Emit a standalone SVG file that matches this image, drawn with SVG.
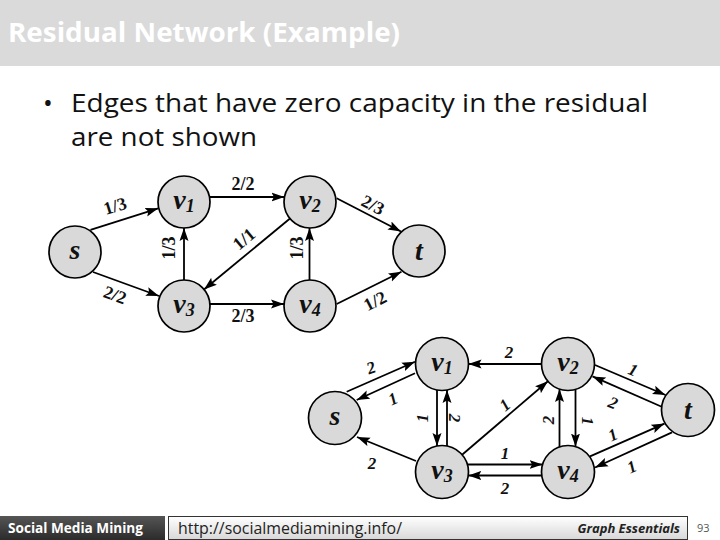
<svg xmlns="http://www.w3.org/2000/svg" width="720" height="540" viewBox="0 0 720 540">
<style>
.node circle{fill:#d9d9d9;stroke:#000;stroke-width:1.7}
.nl{font-family:"Liberation Serif","Times New Roman",serif;font-weight:bold;font-style:italic;font-size:28px;fill:#111;text-anchor:middle}
.sub{font-size:18px}
.e line{stroke:#000;stroke-width:1.8;marker-end:url(#arr)}
.tl{font-family:"Liberation Serif","Times New Roman",serif;font-weight:bold;font-size:18px;fill:#111;text-anchor:middle;dominant-baseline:central}
.bl{font-family:"Liberation Serif","Times New Roman",serif;font-weight:bold;font-style:italic;font-size:17px;fill:#111;text-anchor:middle;dominant-baseline:central}
.ui{font-family:"Open Sans","Noto Sans","Liberation Sans",sans-serif}
</style>
<defs>
<marker id="arr" markerUnits="userSpaceOnUse" markerWidth="13" markerHeight="10" viewBox="0 0 13 10" refX="13" refY="5" orient="auto">
<path d="M0,0.5 L13,5 L0,9.5 L2.5,5 z" fill="#000"/>
</marker>
<linearGradient id="dark" x1="0" y1="0" x2="0" y2="1"><stop offset="0" stop-color="#555"/><stop offset="1" stop-color="#2b2b2b"/></linearGradient>
<linearGradient id="light" x1="0" y1="0" x2="0" y2="1"><stop offset="0" stop-color="#ffffff"/><stop offset="1" stop-color="#d8d8d8"/></linearGradient>
</defs>

<rect x="0" y="0" width="720" height="66" fill="#dadada"/>
<text class="ui" x="8" y="42" font-size="26" font-weight="bold" fill="#fff" textLength="392" lengthAdjust="spacingAndGlyphs">Residual Network (Example)</text>
<text class="ui" x="43" y="112" font-size="26" fill="#111">•</text>
<text class="ui" x="71" y="112" font-size="26" fill="#111" textLength="577" lengthAdjust="spacingAndGlyphs">Edges that have zero capacity in the residual</text>
<text class="ui" x="71" y="146" font-size="26" fill="#111" textLength="186" lengthAdjust="spacingAndGlyphs">are not shown</text>

<!-- top graph connectors -->
<g id="top-edges" class="e">
<line x1="90.5" y1="229.8" x2="158.3" y2="208.3"/>
<line x1="93" y1="272" x2="159" y2="296"/>
<line x1="209.5" y1="197" x2="284.5" y2="197"/>
<line x1="184" y1="280" x2="184" y2="228"/>
<line x1="290" y1="218.5" x2="204" y2="289.5"/>
<line x1="309.5" y1="280" x2="309.5" y2="228"/>
<line x1="210" y1="304" x2="284" y2="304"/>
<line x1="336.7" y1="198.3" x2="401" y2="231.5"/>
<line x1="336.7" y1="304" x2="401.5" y2="271.7"/>
</g>
<g id="top-edge-labels">
<text class="tl" x="115" y="206" transform="rotate(-17 115 206)">1/3</text>
<text class="tl" x="115" y="295" transform="rotate(20 115 295)">2/2</text>
<text class="tl" x="243" y="184">2/2</text>
<text class="tl" x="243" y="316">2/3</text>
<text class="tl" x="244" y="239" transform="rotate(-40 244 239)">1/1</text>
<text class="tl" x="169" y="248" transform="rotate(-90 169 248)">1/3</text>
<text class="tl" x="297" y="248" transform="rotate(-90 297 248)">1/3</text>
<text class="tl" x="373" y="205" transform="rotate(27 373 205)">2/3</text>
<text class="tl" x="375" y="301" transform="rotate(-27 375 301)">1/2</text>
</g>

<g id="top-s" class="node"><circle cx="75" cy="252" r="26"/><text class="nl" x="75" y="259">s</text></g>
<g id="top-v1" class="node"><circle cx="184" cy="202" r="26"/><text class="nl" x="184" y="209">v<tspan class="sub" dy="3">1</tspan></text></g>
<g id="top-v2" class="node"><circle cx="310" cy="202" r="26"/><text class="nl" x="310" y="209">v<tspan class="sub" dy="3">2</tspan></text></g>
<g id="top-v3" class="node"><circle cx="184" cy="306" r="26"/><text class="nl" x="184" y="313">v<tspan class="sub" dy="3">3</tspan></text></g>
<g id="top-v4" class="node"><circle cx="310" cy="306" r="26"/><text class="nl" x="310" y="313">v<tspan class="sub" dy="3">4</tspan></text></g>
<g id="top-t" class="node"><circle cx="419" cy="251" r="26"/><text class="nl" x="419" y="260">t</text></g>

<!-- bottom graph connectors -->
<g id="bottom-edges" class="e">
<line x1="346.7" y1="391.7" x2="415" y2="361.7"/>
<line x1="415" y1="373.3" x2="356.7" y2="400"/>
<line x1="416" y1="461" x2="357" y2="437"/>
<line x1="437" y1="390" x2="437" y2="446"/>
<line x1="447" y1="446" x2="447" y2="390"/>
<line x1="541.5" y1="364" x2="468.5" y2="364"/>
<line x1="462.1" y1="454.7" x2="547.9" y2="381.3"/>
<line x1="467.4" y1="464.5" x2="542.6" y2="464.5"/>
<line x1="541.7" y1="475.5" x2="468.3" y2="475.5"/>
<line x1="559.5" y1="447" x2="559.5" y2="389"/>
<line x1="575.5" y1="389.5" x2="575.5" y2="446.5"/>
<line x1="595" y1="365" x2="665.5" y2="395"/>
<line x1="661.7" y1="406.7" x2="592.5" y2="376.4"/>
<line x1="590" y1="456.4" x2="664.5" y2="423.6"/>
<line x1="672" y1="432.4" x2="595" y2="467.5"/>
</g>
<g id="bottom-edge-labels">
<text class="bl" x="371" y="368" transform="rotate(-20 371 368)">2</text>
<text class="bl" x="393" y="399" transform="rotate(-25 393 399)">1</text>
<text class="bl" x="372" y="463">2</text>
<text class="bl" x="422" y="418" transform="rotate(-90 422 418)">1</text>
<text class="bl" x="454" y="418" transform="rotate(90 454 418)">2</text>
<text class="bl" x="509" y="352">2</text>
<text class="bl" x="505" y="405" transform="rotate(-40 505 405)">1</text>
<text class="bl" x="505" y="453">1</text>
<text class="bl" x="505" y="488">2</text>
<text class="bl" x="548" y="420" transform="rotate(-90 548 420)">2</text>
<text class="bl" x="587" y="421" transform="rotate(90 587 421)">1</text>
<text class="bl" x="633" y="370" transform="rotate(22 633 370)">1</text>
<text class="bl" x="613" y="403" transform="rotate(22 613 403)">2</text>
<text class="bl" x="613" y="435" transform="rotate(-24 613 435)">1</text>
<text class="bl" x="632" y="467" transform="rotate(-24 632 467)">1</text>
</g>

<g id="bot-s" class="node"><circle cx="335" cy="418" r="26.5"/><text class="nl" x="335" y="425">s</text></g>
<g id="bot-v1" class="node"><circle cx="442" cy="364" r="26.5"/><text class="nl" x="442" y="371">v<tspan class="sub" dy="3">1</tspan></text></g>
<g id="bot-v2" class="node"><circle cx="568" cy="364" r="26.5"/><text class="nl" x="568" y="371">v<tspan class="sub" dy="3">2</tspan></text></g>
<g id="bot-v3" class="node"><circle cx="442" cy="472" r="26.5"/><text class="nl" x="442" y="479">v<tspan class="sub" dy="3">3</tspan></text></g>
<g id="bot-v4" class="node"><circle cx="568" cy="472" r="26.5"/><text class="nl" x="568" y="479">v<tspan class="sub" dy="3">4</tspan></text></g>
<g id="bot-t" class="node"><circle cx="688" cy="410" r="26.5"/><text class="nl" x="688" y="419">t</text></g>

<!-- footer -->
<rect x="0" y="516" width="165" height="24" fill="url(#dark)"/>
<text class="ui" x="8" y="533" font-size="13.5" font-weight="bold" fill="#fff" textLength="135" lengthAdjust="spacingAndGlyphs">Social Media Mining</text>
<rect x="168.5" y="516.5" width="519" height="23" fill="url(#light)" stroke="#333" stroke-width="1"/>
<text class="ui" x="178" y="534" font-size="16" fill="#222" textLength="224" lengthAdjust="spacingAndGlyphs">http://socialmediamining.info/</text>
<text class="ui" x="680" y="533" font-size="13" font-weight="bold" font-style="italic" fill="#222" text-anchor="end">Graph Essentials</text>
<text class="ui" x="697" y="532" font-size="11" fill="#555">93</text>
</svg>
